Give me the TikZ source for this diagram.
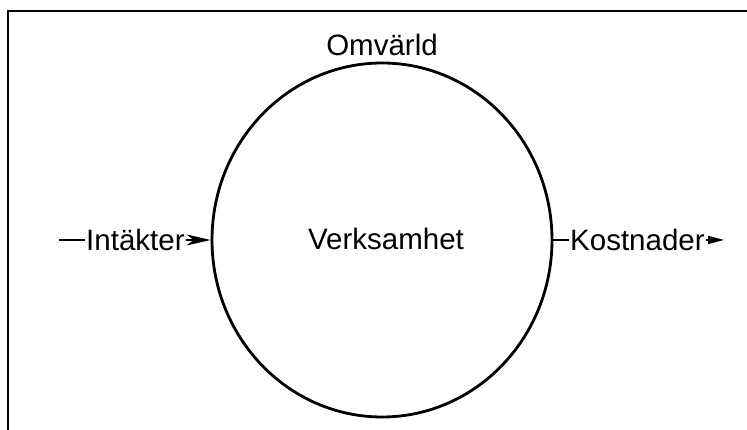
\documentclass[tikz,border=0pt]{standalone}
\usepackage{fontspec}
\setmainfont{Liberation Sans}
\usetikzlibrary{shapes.geometric,arrows.meta}
\begin{document}
\begin{tikzpicture}[x=1pt,y=-1pt,
  lbl/.style={font=\fontsize{29.5}{35}\selectfont, inner xsep=1pt, inner ysep=0pt},
  conn/.style={line width=1.6pt},
  frameline/.style={line width=2.2pt},
  bigcirc/.style={draw, ellipse, line width=2.8pt, minimum width=340pt, minimum height=354pt, inner sep=0pt}]
\useasboundingbox (0,0) rectangle (747,430);
\fill[white] (0,0) rectangle (747,430);
\draw[frameline] (747,11) -- (8,11) -- (8,430);
\node[bigcirc] (verk) at (382,240) {};
\node[lbl, anchor=base] (vtext) at (386,250) {Verksamhet};
\node[lbl, anchor=base] (omv) at (382,56) {Omvärld};
\node[lbl, anchor=base west] (intak) at (85,250.5) {Intäkter};
\node[lbl, anchor=base west] (kost) at (569,250.5) {Kostnader};
\coordinate (istart) at (59,240);
\coordinate (kend) at (724,240);
\draw[conn] (istart) -- (istart -| intak.west);
\draw[conn, -{Stealth[length=24pt,width=11pt,inset=7pt]}] (intak.east) -- (verk.west);
\draw[conn] (verk.east) -- (verk.east -| kost.west);
\draw[conn, -{Triangle[length=16pt,width=8pt]}] (kost.east) -- (kost.east -| kend);
\end{tikzpicture}
\end{document}
